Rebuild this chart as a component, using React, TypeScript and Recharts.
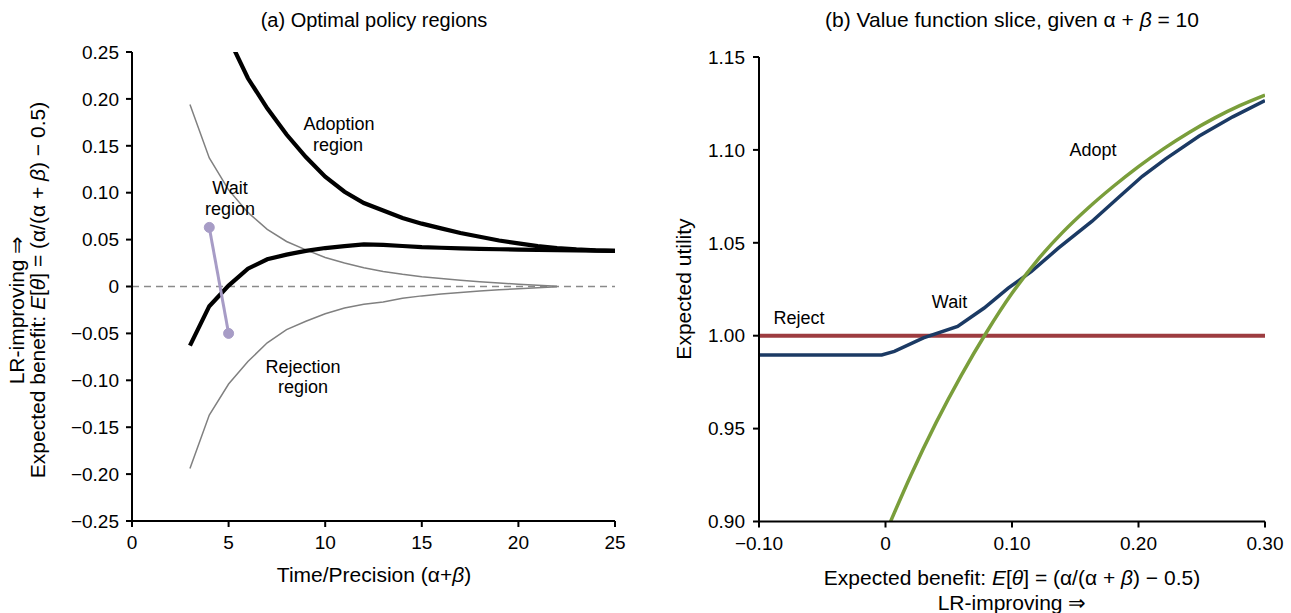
import React from 'react';
import { LineChart, Line, XAxis, YAxis, ReferenceLine } from 'recharts';

const FONT = '"Liberation Sans", Arial, Helvetica, sans-serif';

// ---------- Panel (a): optimal policy regions ----------
const adoptT = [5, 6, 7, 8, 9, 10, 11, 12, 13, 14, 15, 16, 17, 18, 19, 20, 21, 22, 23, 24, 25];
const adoptE = [0.265, 0.222, 0.19, 0.162, 0.138, 0.117, 0.101, 0.089, 0.081, 0.073, 0.067, 0.062, 0.057, 0.053, 0.049, 0.046, 0.043, 0.041, 0.0395, 0.0385, 0.038];

const rejectT = [3, 4, 5, 6, 7, 8, 9, 10, 11, 12, 13, 14, 15, 16, 17, 18, 19, 20, 21, 22, 23, 24, 25];
const rejectE = [-0.063, -0.021, 0.001, 0.019, 0.029, 0.034, 0.038, 0.041, 0.043, 0.045, 0.0443, 0.0432, 0.042, 0.0413, 0.0407, 0.0401, 0.0397, 0.0393, 0.039, 0.0387, 0.0385, 0.0382, 0.038];

const myopicT = [3, 4, 5, 6, 7, 8, 9, 10, 11, 12, 13, 14, 15, 16, 17, 18, 19, 20, 21, 22];
const myopicUpperE = [0.194, 0.137, 0.103, 0.079, 0.061, 0.048, 0.039, 0.031, 0.025, 0.02, 0.016, 0.013, 0.0105, 0.0085, 0.0067, 0.005, 0.0037, 0.0025, 0.0013, 0.0003];
const myopicLowerE = [-0.194, -0.137, -0.104, -0.08, -0.06, -0.046, -0.037, -0.029, -0.023, -0.019, -0.0165, -0.0125, -0.01, -0.008, -0.0063, -0.0048, -0.0035, -0.0024, -0.0013, -0.0003];

const exampleT = [4, 5];
const exampleE = [0.063, -0.05];

const aTicksX = [0, 5, 10, 15, 20, 25];
const aTicksY = [-0.25, -0.2, -0.15, -0.1, -0.05, 0, 0.05, 0.1, 0.15, 0.2, 0.25];

// ---------- Panel (b): value function slice ----------
const rejectX = [-0.1, 0.3];
const rejectU = [1.0, 1.0];

const waitX = [-0.1, -0.003, 0.007, 0.03, 0.057, 0.078, 0.097, 0.1154, 0.1366, 0.1631, 0.1844, 0.203, 0.2215, 0.248, 0.2745, 0.3];
const waitU = [0.9896, 0.9896, 0.9916, 0.9988, 1.005, 1.0149, 1.0256, 1.0346, 1.0471, 1.0615, 1.0745, 1.0858, 1.0952, 1.1075, 1.1178, 1.1265];

const adoptX = [0.004, 0.02, 0.04, 0.06, 0.08, 0.1, 0.12, 0.14, 0.16, 0.18, 0.2, 0.22, 0.24, 0.26, 0.28, 0.3];
const adoptU = [0.9, 0.9248, 0.9532, 0.9788, 1.002, 1.0228, 1.0406, 1.0556, 1.0686, 1.0803, 1.091, 1.1007, 1.1094, 1.1171, 1.1238, 1.1295];

const bTicksX = [-0.1, 0, 0.1, 0.2, 0.3];
const bTicksY = [0.9, 0.95, 1.0, 1.05, 1.1, 1.15];

const zip = (xs: number[], ys: number[]) => xs.map((x, i) => ({ x, y: ys[i] }));

const fmtDec = (v: number) => {
  if (Math.abs(v) < 1e-9) return '0';
  const s = Math.abs(v).toFixed(2);
  return v < 0 ? '\u2212' + s : s;
};
const fmtInt = (v: number) => String(v);

const tickStyle = { fill: '#000', fontSize: 19, fontFamily: FONT };
const axisLine = { stroke: '#000', strokeWidth: 2 };

export default function App() {
  return (
    <div style={{ position: 'absolute', left: 0, top: 0, width: 1291, height: 613, background: '#fff', fontFamily: FONT, overflow: 'hidden' }}>
      <div style={{ position: 'absolute', left: 0, top: 0 }}>
        <LineChart width={640} height={613} margin={{ top: 52, right: 25, bottom: 0, left: 0 }}>
          <XAxis
            type="number"
            dataKey="x"
            domain={[0, 25]}
            ticks={aTicksX}
            interval={0}
            tickFormatter={fmtInt}
            height={92}
            tick={tickStyle}
            tickSize={6}
            tickMargin={9}
            axisLine={axisLine}
            tickLine={axisLine}
            allowDataOverflow
          />
          <YAxis
            type="number"
            domain={[-0.25, 0.25]}
            ticks={aTicksY}
            interval={0}
            tickFormatter={fmtDec}
            width={132}
            tick={tickStyle}
            tickSize={6}
            tickMargin={7}
            axisLine={axisLine}
            tickLine={axisLine}
            allowDataOverflow
          />
          <ReferenceLine y={0} stroke="#8a8a8a" strokeWidth={1.5} strokeDasharray="7 5" ifOverflow="hidden" />
          <Line data={zip(myopicT, myopicUpperE)} dataKey="y" type="linear" stroke="#808080" strokeWidth={1.5} dot={false} isAnimationActive={false} />
          <Line data={zip(myopicT, myopicLowerE)} dataKey="y" type="linear" stroke="#808080" strokeWidth={1.5} dot={false} isAnimationActive={false} />
          <Line data={zip(adoptT, adoptE)} dataKey="y" type="linear" stroke="#000" strokeWidth={4.2} dot={false} isAnimationActive={false} />
          <Line data={zip(rejectT, rejectE)} dataKey="y" type="linear" stroke="#000" strokeWidth={4.2} dot={false} isAnimationActive={false} />
          <Line
            data={zip(exampleT, exampleE)}
            dataKey="y"
            type="linear"
            stroke="#a79cc6"
            strokeWidth={3}
            dot={{ r: 5, fill: '#a79cc6', stroke: '#a79cc6', strokeWidth: 1 }}
            isAnimationActive={false}
          />
        </LineChart>
      </div>

      <div style={{ position: 'absolute', left: 650, top: 0 }}>
        <LineChart width={641} height={613} margin={{ top: 57, right: 26, bottom: 0, left: 0 }}>
          <XAxis
            type="number"
            dataKey="x"
            domain={[-0.1, 0.3]}
            ticks={bTicksX}
            interval={0}
            tickFormatter={fmtDec}
            height={91.5}
            tick={tickStyle}
            tickSize={6}
            tickMargin={9}
            axisLine={axisLine}
            tickLine={axisLine}
            allowDataOverflow
          />
          <YAxis
            type="number"
            domain={[0.9, 1.15]}
            ticks={bTicksY}
            interval={0}
            tickFormatter={fmtDec}
            width={109}
            tick={tickStyle}
            tickSize={6}
            tickMargin={8}
            axisLine={axisLine}
            tickLine={axisLine}
            allowDataOverflow
          />
          <Line data={zip(rejectX, rejectU)} dataKey="y" type="linear" stroke="#9d3c40" strokeWidth={4} dot={false} isAnimationActive={false} />
          <Line data={zip(waitX, waitU)} dataKey="y" type="linear" stroke="#1b3a64" strokeWidth={3.5} dot={false} isAnimationActive={false} />
          <Line data={zip(adoptX, adoptU)} dataKey="y" type="monotone" stroke="#7a9e3b" strokeWidth={3.5} dot={false} isAnimationActive={false} />
        </LineChart>
      </div>

      <svg width={1291} height={613} style={{ position: 'absolute', left: 0, top: 0, pointerEvents: 'none' }} fontFamily={FONT} fill="#000">
        {/* Panel (a) texts */}
        <text x={374} y={27} fontSize={20} textAnchor="middle">(a) Optimal policy regions</text>
        <text x={374} y={582} fontSize={21} textAnchor="middle">
          Time/Precision (α+<tspan fontStyle="italic">β</tspan>)
        </text>
        <text transform="translate(24,310) rotate(-90)" fontSize={21} textAnchor="middle">LR-improving ⇒</text>
        <text transform="translate(45,290) rotate(-90)" fontSize={21} textAnchor="middle">
          Expected benefit: <tspan fontStyle="italic">E</tspan>[<tspan fontStyle="italic">θ</tspan>] = (α/(α + <tspan fontStyle="italic">β</tspan>) − 0.5)
        </text>
        <text x={339} y={129.5} fontSize={18} textAnchor="middle">Adoption</text>
        <text x={338} y={150.5} fontSize={18} textAnchor="middle">region</text>
        <text x={230} y={194} fontSize={18} textAnchor="middle">Wait</text>
        <text x={230} y={215} fontSize={18} textAnchor="middle">region</text>
        <text x={303} y={372.5} fontSize={18} textAnchor="middle">Rejection</text>
        <text x={303} y={393} fontSize={18} textAnchor="middle">region</text>

        {/* Panel (b) texts */}
        <text x={1012} y={27} fontSize={21} textAnchor="middle">
          (b) Value function slice, given α + <tspan fontStyle="italic">β</tspan> = 10
        </text>
        <text x={1012} y={585} fontSize={21} textAnchor="middle">
          Expected benefit: <tspan fontStyle="italic">E</tspan>[<tspan fontStyle="italic">θ</tspan>] = (α/(α + <tspan fontStyle="italic">β</tspan>) − 0.5)
        </text>
        <text x={1012} y={610} fontSize={21} textAnchor="middle">LR-improving ⇒</text>
        <text transform="translate(691,289) rotate(-90)" fontSize={21} textAnchor="middle">Expected utility</text>
        <text x={799} y={324} fontSize={18} textAnchor="middle">Reject</text>
        <text x={949.5} y={308} fontSize={18} textAnchor="middle">Wait</text>
        <text x={1093} y={156} fontSize={18} textAnchor="middle">Adopt</text>
      </svg>
    </div>
  );
}
